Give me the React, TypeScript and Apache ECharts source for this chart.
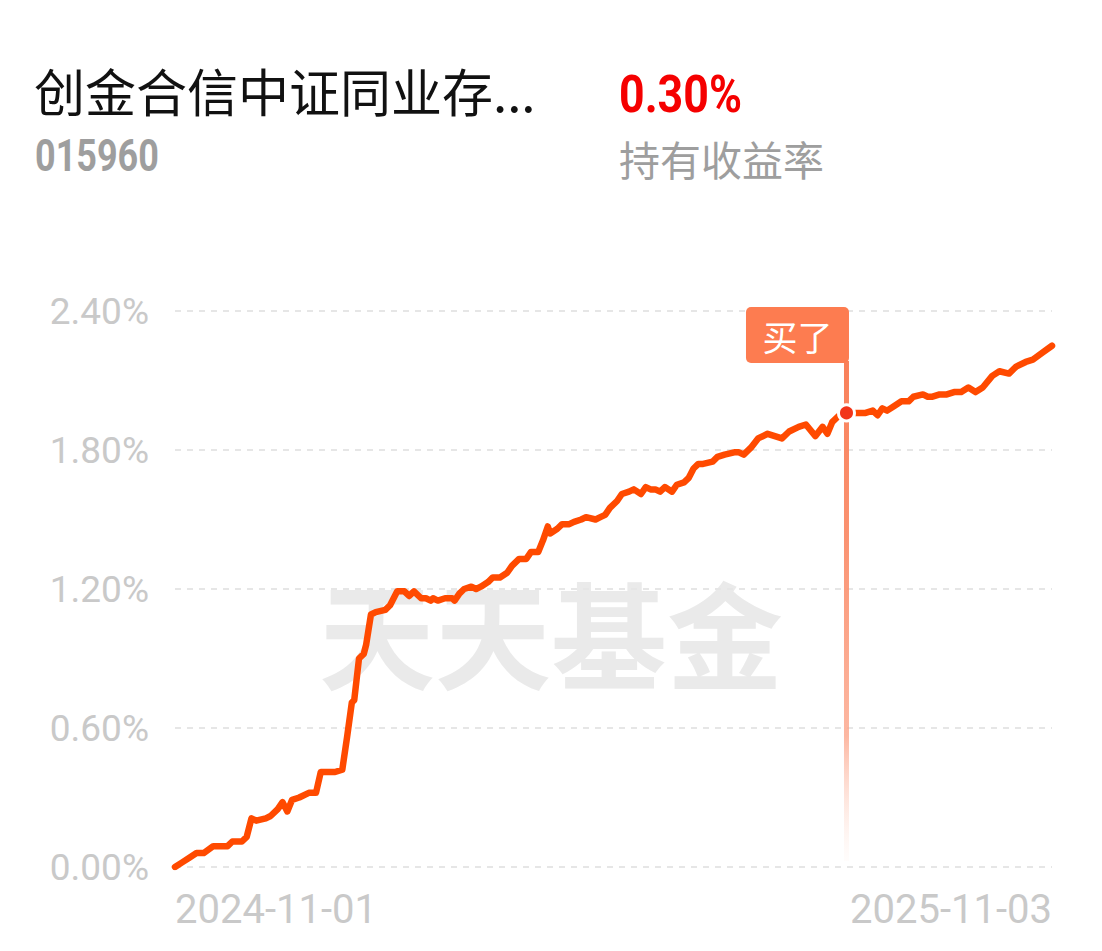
import React, { useEffect, useRef } from "react";
import * as echarts from "echarts";

const fundName = "创金合信中证同业存...";
const fundCode = "015960";
const holdReturn = "0.30%";
const holdReturnLabel = "持有收益率";
const watermark = "天天基金";
const buyLabel = "买了";

const xStart = "2024-11-01";
const xEnd = "2025-11-03";
const yTicks = [0, 0.6, 1.2, 1.8, 2.4];

const buyDate = "2025-08-09";
const buyValue = 1.96;

const dates = [
  "2024-11-01", "2024-11-04", "2024-11-07", "2024-11-10", "2024-11-13", "2024-11-17", "2024-11-23", "2024-11-25",
  "2024-11-29", "2024-12-01", "2024-12-03", "2024-12-05", "2024-12-09", "2024-12-11", "2024-12-14", "2024-12-16",
  "2024-12-18", "2024-12-20", "2024-12-23", "2024-12-27", "2024-12-30", "2025-01-01", "2025-01-07", "2025-01-10",
  "2025-01-12", "2025-01-14", "2025-01-15", "2025-01-17", "2025-01-19", "2025-01-20", "2025-01-22", "2025-01-24",
  "2025-01-28", "2025-01-30", "2025-02-02", "2025-02-05", "2025-02-07", "2025-02-09", "2025-02-12", "2025-02-14",
  "2025-02-16", "2025-02-17", "2025-02-19", "2025-02-22", "2025-02-25", "2025-02-26", "2025-02-28", "2025-03-02",
  "2025-03-05", "2025-03-07", "2025-03-09", "2025-03-12", "2025-03-14", "2025-03-17", "2025-03-20", "2025-03-22",
  "2025-03-25", "2025-03-28", "2025-03-30", "2025-04-02", "2025-04-04", "2025-04-06", "2025-04-07", "2025-04-10",
  "2025-04-12", "2025-04-15", "2025-04-17", "2025-04-20", "2025-04-22", "2025-04-26", "2025-04-28", "2025-04-30",
  "2025-05-02", "2025-05-05", "2025-05-07", "2025-05-10", "2025-05-12", "2025-05-15", "2025-05-17", "2025-05-19",
  "2025-05-21", "2025-05-23", "2025-05-25", "2025-05-28", "2025-05-30", "2025-06-02", "2025-06-04", "2025-06-06",
  "2025-06-08", "2025-06-10", "2025-06-14", "2025-06-16", "2025-06-19", "2025-06-23", "2025-06-25", "2025-06-27",
  "2025-06-30", "2025-07-03", "2025-07-07", "2025-07-10", "2025-07-13", "2025-07-16", "2025-07-20", "2025-07-23",
  "2025-07-27", "2025-07-30", "2025-08-01", "2025-08-03", "2025-08-06", "2025-08-09", "2025-08-12", "2025-08-17",
  "2025-08-20", "2025-08-22", "2025-08-24", "2025-08-26", "2025-08-29", "2025-09-01", "2025-09-04", "2025-09-06",
  "2025-09-10", "2025-09-12", "2025-09-14", "2025-09-17", "2025-09-20", "2025-09-23", "2025-09-26", "2025-09-29",
  "2025-10-02", "2025-10-05", "2025-10-09", "2025-10-12", "2025-10-16", "2025-10-19", "2025-10-23", "2025-10-26",
  "2025-10-30", "2025-11-03",
];

const returns = [
  0.0, 0.02, 0.04, 0.06, 0.06, 0.09, 0.09, 0.11,
  0.11, 0.13, 0.21, 0.2, 0.21, 0.22, 0.25, 0.28,
  0.24, 0.29, 0.3, 0.32, 0.32, 0.41, 0.41, 0.42,
  0.56, 0.71, 0.72, 0.9, 0.92, 0.96, 1.09, 1.1,
  1.11, 1.13, 1.19, 1.19, 1.17, 1.19, 1.16, 1.16,
  1.15, 1.16, 1.15, 1.16, 1.16, 1.15, 1.18, 1.2,
  1.21, 1.2, 1.21, 1.23, 1.25, 1.25, 1.27, 1.3,
  1.33, 1.33, 1.36, 1.36, 1.41, 1.47, 1.44, 1.46,
  1.48, 1.48, 1.49, 1.5, 1.51, 1.5, 1.51, 1.52,
  1.55, 1.58, 1.61, 1.62, 1.63, 1.61, 1.64, 1.63,
  1.63, 1.62, 1.64, 1.62, 1.65, 1.66, 1.68, 1.72,
  1.74, 1.74, 1.75, 1.77, 1.78, 1.79, 1.79, 1.78,
  1.81, 1.85, 1.87, 1.86, 1.85, 1.88, 1.9, 1.91,
  1.86, 1.9, 1.87, 1.92, 1.95, 1.96, 1.96, 1.96,
  1.97, 1.95, 1.98, 1.97, 1.99, 2.01, 2.01, 2.03,
  2.04, 2.03, 2.03, 2.04, 2.04, 2.05, 2.05, 2.07,
  2.05, 2.07, 2.12, 2.14, 2.13, 2.16, 2.18, 2.19,
  2.22, 2.25,
];

const toTs = (d: string) => echarts.time.parse(d).getTime();

export default function App() {
  const ref = useRef<HTMLDivElement>(null);

  useEffect(() => {
    if (!ref.current) return;
    const chart = echarts.init(ref.current, null, { renderer: "svg" });
    const tMin = toTs(xStart);
    const tMax = toTs(xEnd);
    const seriesData = dates.map((d, i) => [toTs(d), returns[i]]);

    chart.setOption({
      animation: false,
      backgroundColor: "#ffffff",
      grid: { left: 175, right: 50, top: 311, bottom: 84, containLabel: false },
      xAxis: {
        type: "value",
        min: tMin,
        max: tMax,
        scale: true,
        axisLine: { show: false },
        axisTick: { show: false },
        splitLine: { show: false },
        axisLabel: {
          customValues: [tMin, tMax],
          alignMinLabel: "left",
          alignMaxLabel: "right",
          color: "#c9c9c9",
          fontSize: 40,
          fontFamily: "Roboto",
          margin: 22,
          formatter: (v: number) => echarts.time.format(v, "{yyyy}-{MM}-{dd}", false),
        },
      },
      yAxis: {
        type: "value",
        min: yTicks[0],
        max: yTicks[yTicks.length - 1],
        interval: 0.6,
        axisLine: { show: false },
        axisTick: { show: false },
        axisLabel: {
          color: "#c9c9c9",
          fontSize: 37,
          fontFamily: "Roboto",
          margin: 26,
          formatter: (v: number) => v.toFixed(2) + "%",
        },
        splitLine: {
          show: true,
          lineStyle: { color: "#e6e6e6", width: 2, type: [6, 6] },
        },
      },
      graphic: [
        {
          id: "wm",
          type: "text",
          x: 551,
          y: 630,
          z: 0,
          silent: true,
          style: {
            text: watermark,
            fill: "#eaeaea",
            fontSize: 116,
            fontWeight: 700,
            fontFamily: "Noto Sans CJK SC",
            align: "center",
            verticalAlign: "middle",
          },
        },
        {
          id: "title",
          type: "text",
          x: 34,
          y: 90,
          style: {
            text: fundName,
            fill: "#111111",
            fontSize: 51,
            fontFamily: "Noto Sans CJK SC",
            verticalAlign: "middle",
          },
        },
        {
          id: "code",
          type: "text",
          x: 35,
          y: 156,
          scaleX: 0.8,
          style: {
            text: fundCode,
            fill: "#9e9e9e",
            fontSize: 45,
            fontWeight: "bold",
            fontFamily: "Roboto",
            verticalAlign: "middle",
          },
        },
        {
          id: "ret",
          type: "text",
          x: 619,
          y: 94,
          scaleX: 0.86,
          style: {
            text: holdReturn,
            fill: "#f50000",
            fontSize: 52,
            fontWeight: "bold",
            fontFamily: "Roboto",
            verticalAlign: "middle",
          },
        },
        {
          id: "retLabel",
          type: "text",
          x: 619,
          y: 158,
          style: {
            text: holdReturnLabel,
            fill: "#9e9e9e",
            fontSize: 41,
            fontFamily: "Noto Sans CJK SC",
            verticalAlign: "middle",
          },
        },
      ],
      series: [
        {
          type: "line",
          data: seriesData,
          showSymbol: false,
          symbol: "none",
          smooth: false,
          z: 3,
          lineStyle: { color: "#ff4a00", width: 6.5, cap: "round", join: "round" },
        },
      ],
    });

    const p = chart.convertToPixel({ seriesIndex: 0 }, [toTs(buyDate), buyValue]) as number[];
    const yTop = (chart.convertToPixel({ yAxisIndex: 0 }, yTicks[yTicks.length - 1]) as number) - 4;
    const yZero = chart.convertToPixel({ yAxisIndex: 0 }, 0) as number;
    const boxW = 103;
    const boxH = 56;
    const lineW = 5;
    const px = p[0];

    chart.setOption({
      graphic: [
        {
          id: "buyLine",
          type: "rect",
          z: 10,
          silent: true,
          shape: { x: px - lineW / 2, y: yTop + boxH - 2, width: lineW, height: yZero - 6 - (yTop + boxH - 2) },
          style: {
            fill: new echarts.graphic.LinearGradient(0, 0, 0, 1, [
              { offset: 0, color: "rgba(249,128,90,1)" },
              { offset: 0.35, color: "rgba(250,140,105,0.95)" },
              { offset: 0.75, color: "rgba(252,165,138,0.8)" },
              { offset: 1, color: "rgba(255,230,220,0.1)" },
            ]),
          },
        },
        {
          id: "buyBox",
          type: "rect",
          z: 11,
          silent: true,
          shape: { x: px + lineW / 2 - boxW, y: yTop, width: boxW, height: boxH, r: 5 },
          style: { fill: "#fd7c50" },
        },
        {
          id: "buyText",
          type: "text",
          z: 12,
          silent: true,
          x: px + lineW / 2 - boxW / 2,
          y: yTop + boxH / 2,
          style: {
            text: buyLabel,
            fill: "#ffffff",
            fontSize: 35,
            fontFamily: "Noto Sans CJK SC",
            align: "center",
            verticalAlign: "middle",
          },
        },
        {
          id: "buyDot",
          type: "circle",
          z: 13,
          silent: true,
          shape: { cx: px, cy: p[1], r: 8 },
          style: { fill: "#f2351a", stroke: "#ffffff", lineWidth: 3 },
        },
      ],
    });

    return () => chart.dispose();
  }, []);

  return (
    <div
      ref={ref}
      style={{ position: "fixed", left: 0, top: 0, width: 1102, height: 951, background: "#fff" }}
    />
  );
}
